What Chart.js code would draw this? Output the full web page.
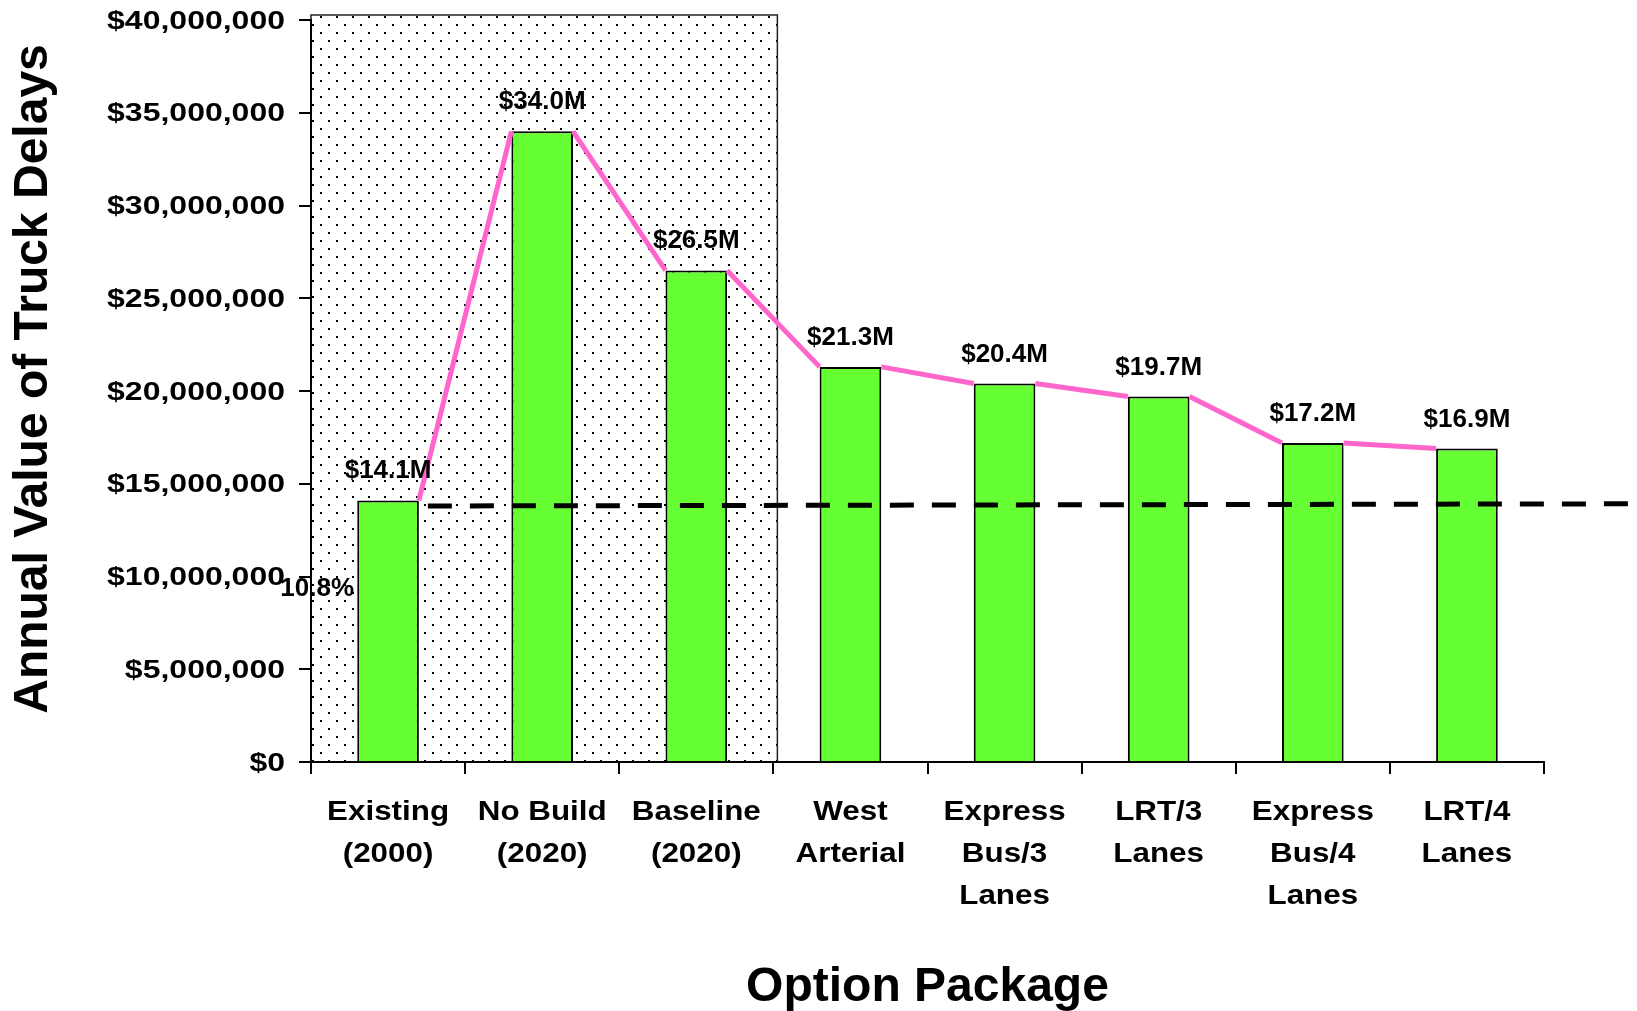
<!DOCTYPE html>
<html>
<head>
<meta charset="utf-8">
<title>Annual Value of Truck Delays by Option Package</title>
<script src="https://cdn.jsdelivr.net/npm/chart.js@4.4.1/dist/chart.umd.min.js"></script>
<style>
  html, body { margin: 0; padding: 0; background: #ffffff; }
  #chart { display: block; }
</style>
</head>
<body>
<canvas id="chart" width="1637" height="1011"></canvas>
<script>
// ---- data ----------------------------------------------------------------
const categories = [
  ["Existing", "(2000)"],
  ["No Build", "(2020)"],
  ["Baseline", "(2020)"],
  ["West", "Arterial"],
  ["Express", "Bus/3", "Lanes"],
  ["LRT/3", "Lanes"],
  ["Express", "Bus/4", "Lanes"],
  ["LRT/4", "Lanes"]
];
// annual value of truck delays, millions of dollars
const delayMillions = [14.1, 34.0, 26.5, 21.3, 20.4, 19.7, 17.2, 16.9];
// value-axis ticks, millions of dollars
const yTickMillions = [0, 5, 10, 15, 20, 25, 30, 35, 40];
// dashed reference level (millions), at its left and right ends
const referenceLevel = [13.8, 13.92];
const noteText = "10.8%";

// ---- styling ---------------------------------------------------------------
const FONT = "'Liberation Sans', Arial, Helvetica, sans-serif";
const BAR_FRACTION = 0.4;
const HALF_BAR = BAR_FRACTION / 2;
const GREEN = "#66FF33";
const PINK = "#FF66CC";
const BAR_INDEX = 2;

// pink connector: from the right top corner of each bar to the left top corner of the next
// (x is a fractional category index on the category axis)
const connector = [];
for (let i = 0; i < delayMillions.length - 1; i++) {
  connector.push({ x: i + HALF_BAR, y: delayMillions[i] });
  connector.push({ x: i + 1 - HALF_BAR, y: delayMillions[i + 1] });
  connector.push({ x: i + 1 - HALF_BAR + 0.01, y: null });
}
const referenceLine = [
  { x: HALF_BAR, y: referenceLevel[0] },
  { x: 8.1, y: referenceLevel[1] }
];

const fmtMoney = v => "$" + Math.round(v * 1e6).toLocaleString("en-US");
const fmtLabel = v => "$" + v.toFixed(1) + "M";

// dotted fill for the base-year / no-build panel
function dotPattern(ctx) {
  const tile = document.createElement("canvas");
  tile.width = 16; tile.height = 16;
  const t = tile.getContext("2d");
  t.fillStyle = "#000";
  t.fillRect(0, 0, 2, 2);
  t.fillRect(8, 8, 2, 2);
  return ctx.createPattern(tile, "repeat");
}

const panelPlugin = {
  id: "panel",
  beforeDraw(chart) {
    const { ctx, scales } = chart;
    const xs = scales.x, ys = scales.y;
    const left = xs.getPixelForValue(-0.5);
    const right = xs.getPixelForValue(2.526);
    const top = ys.getPixelForValue(40.27);
    const bottom = ys.getPixelForValue(0);
    ctx.save();
    ctx.fillStyle = dotPattern(ctx);
    ctx.fillRect(left, top, right - left, bottom - top);
    ctx.strokeStyle = "#222";
    ctx.lineWidth = 1.5;
    ctx.strokeRect(left, top, right - left, bottom - top);
    ctx.restore();
  }
};

// draw text stretched horizontally about its anchor
function wideText(ctx, text, x, y, sx) {
  ctx.save();
  ctx.translate(x, y);
  ctx.scale(sx, 1);
  ctx.fillText(text, 0, 0);
  ctx.restore();
}

const labelPlugin = {
  id: "valueLabels",
  afterDraw(chart) {
    const { ctx, scales } = chart;
    const meta = chart.getDatasetMeta(BAR_INDEX);
    ctx.save();
    ctx.fillStyle = "#000";
    ctx.font = "bold 26px " + FONT;
    ctx.textAlign = "center";
    ctx.textBaseline = "alphabetic";
    meta.data.forEach((bar, i) => {
      ctx.fillText(fmtLabel(delayMillions[i]), bar.x, bar.y - 22);
    });
    // note beside the value axis
    ctx.fillText(noteText, scales.x.getPixelForValue(-0.46), scales.y.getPixelForValue(8.93));

    // value-axis tick labels, in a wide bold face
    ctx.font = "bold 25px " + FONT;
    ctx.textAlign = "right";
    const labelRight = scales.y.right - 26;
    yTickMillions.forEach(v => {
      wideText(ctx, fmtMoney(v), labelRight, scales.y.getPixelForValue(v) + 8.5, 1.28);
    });

    // category labels under the axis, one line per entry
    ctx.font = "bold 28px " + FONT;
    ctx.textAlign = "center";
    ctx.textBaseline = "middle";
    const firstLine = scales.x.top + 12 + 17 + 21;
    categories.forEach((lines, i) => {
      const cx = scales.x.getPixelForValue(i);
      lines.forEach((line, k) => wideText(ctx, line, cx, firstLine + k * 42, 1.12));
    });

    // value-axis title
    ctx.font = "bold 48px " + FONT;
    ctx.textAlign = "center";
    ctx.textBaseline = "middle";
    ctx.translate(34, 379);
    ctx.rotate(-Math.PI / 2);
    ctx.fillText("Annual Value of Truck Delays", 0, 0);
    ctx.restore();
  }
};

new Chart(document.getElementById("chart"), {
  type: "bar",
  data: {
    labels: categories,
    datasets: [
      {
        type: "line",
        label: "Reference level",
        data: referenceLine,
        parsing: false,
        borderColor: "#000",
        borderWidth: 5,
        borderDash: [24, 18],
        borderDashOffset: 33,
        pointRadius: 0,
        clip: false,
        order: 1
      },
      {
        type: "line",
        label: "Trend",
        data: connector,
        parsing: false,
        borderColor: PINK,
        borderWidth: 5,
        pointRadius: 0,
        spanGaps: false,
        tension: 0,
        order: 2
      },
      {
        type: "bar",
        label: "Annual value of truck delays",
        data: delayMillions,
        backgroundColor: GREEN,
        borderColor: "#000",
        borderWidth: 2,
        barPercentage: BAR_FRACTION,
        categoryPercentage: 1.0,
        grouped: false,
        order: 3
      }
    ]
  },
  options: {
    responsive: false,
    devicePixelRatio: 1,
    animation: false,
    layout: { padding: { left: 0, right: 93, top: 20, bottom: 0 } },
    plugins: {
      legend: { display: false },
      tooltip: { enabled: false }
    },
    scales: {
      x: {
        type: "category",
        offset: true,
        grid: {
          offset: true,
          drawOnChartArea: false,
          drawTicks: true,
          tickLength: 12,
          color: "#000",
          lineWidth: 2
        },
        border: { display: true, color: "#000", width: 2 },
        ticks: { display: false, padding: 0, autoSkip: false },
        title: {
          display: true,
          text: "Option Package",
          color: "#000",
          font: { family: FONT, size: 48, weight: "bold", lineHeight: 0.95 },
          padding: { top: 0, bottom: 0 }
        },
        afterFit(scale) { scale.height = 249; }
      },
      y: {
        type: "linear",
        min: 0,
        max: 40,
        afterBuildTicks(scale) { scale.ticks = yTickMillions.map(v => ({ value: v })); },
        grid: {
          drawOnChartArea: false,
          tickLength: 12,
          color: "#000",
          lineWidth: 2
        },
        border: { display: true, color: "#000", width: 2 },
        ticks: { display: false, padding: 0 },
        title: { display: false },
        afterFit(scale) { scale.width = 311; }
      }
    }
  },
  plugins: [panelPlugin, labelPlugin]
});
</script>
</body>
</html>
